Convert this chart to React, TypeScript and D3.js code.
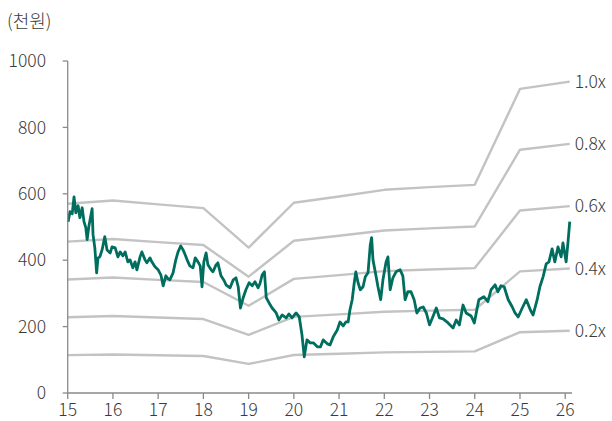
import React from "react";
import * as d3 from "d3";

// Price trace: [year (2-digit, fractional), price (천원)]
const priceYears: number[] = [
  15.01, 15.05, 15.10, 15.14, 15.18, 15.23, 15.27, 15.32, 15.36, 15.40, 15.43, 15.47, 15.54, 15.56, 15.60, 15.64, 15.67, 15.71, 15.76, 15.82,
  15.87, 15.94, 15.98, 16.05, 16.11, 16.16, 16.22, 16.27, 16.33, 16.38, 16.44, 16.49, 16.53, 16.60, 16.64, 16.71, 16.75, 16.82, 16.86, 16.93,
  17.00, 17.06, 17.11, 17.17, 17.22, 17.26, 17.33, 17.39, 17.44, 17.50, 17.55, 17.59, 17.64, 17.70, 17.77, 17.82, 17.88, 17.93, 17.97, 18.01,
  18.06, 18.10, 18.17, 18.21, 18.28, 18.32, 18.39, 18.46, 18.50, 18.59, 18.66, 18.72, 18.77, 18.82, 18.88, 18.94, 19.01, 19.08, 19.14, 19.21,
  19.25, 19.30, 19.35, 19.39, 19.45, 19.52, 19.61, 19.67, 19.74, 19.83, 19.89, 19.96, 20.05, 20.12, 20.18, 20.23, 20.29, 20.36, 20.43, 20.52,
  20.59, 20.65, 20.74, 20.80, 20.87, 20.96, 21.02, 21.09, 21.15, 21.20, 21.24, 21.29, 21.33, 21.37, 21.42, 21.47, 21.53, 21.58, 21.64, 21.69,
  21.72, 21.75, 21.82, 21.86, 21.92, 21.97, 22.04, 22.08, 22.13, 22.19, 22.26, 22.35, 22.41, 22.46, 22.52, 22.59, 22.66, 22.72, 22.79, 22.86,
  22.93, 23.00, 23.08, 23.15, 23.22, 23.30, 23.41, 23.52, 23.59, 23.66, 23.74, 23.81, 23.92, 23.99, 24.09, 24.20, 24.29, 24.36, 24.45, 24.51,
  24.58, 24.65, 24.74, 24.83, 24.89, 24.96, 25.05, 25.14, 25.23, 25.29, 25.38, 25.44, 25.51, 25.58, 25.64, 25.71, 25.77, 25.84, 25.91, 25.95,
  26.02, 26.06, 26.10,
];
const priceValues: number[] = [
  516, 546, 540, 591, 543, 564, 528, 558, 516, 498, 462, 504, 555, 477, 437, 362, 407, 410, 431, 471,
  431, 422, 440, 437, 410, 425, 413, 425, 395, 401, 377, 395, 371, 410, 425, 401, 392, 407, 395, 380,
  371, 356, 323, 353, 344, 341, 362, 401, 425, 443, 431, 419, 401, 383, 377, 407, 395, 383, 320, 395,
  422, 386, 371, 365, 386, 392, 353, 338, 326, 317, 341, 347, 320, 256, 287, 311, 332, 323, 335, 317,
  329, 356, 365, 287, 272, 256, 241, 220, 235, 226, 238, 226, 241, 229, 175, 109, 160, 151, 151, 139,
  139, 160, 148, 145, 169, 190, 214, 202, 214, 214, 250, 281, 326, 365, 332, 311, 320, 350, 362, 446,
  468, 401, 350, 320, 281, 341, 395, 410, 311, 347, 365, 371, 353, 281, 305, 305, 281, 241, 256, 259,
  241, 205, 232, 256, 226, 223, 211, 196, 220, 205, 265, 241, 232, 211, 281, 290, 275, 311, 326, 305,
  323, 320, 281, 259, 241, 229, 256, 281, 250, 235, 281, 320, 350, 389, 395, 434, 395, 440, 410, 452,
  395, 452, 516,
];

// BPS-based PBR band anchors
const bandYears: number[] = [15, 16, 17, 18, 19, 20, 21, 22, 23, 24, 25, 26.1];
const bpsValues: number[] = [570, 580, 568, 557, 438, 573, 592, 612, 620, 627, 916, 938];
const bandMultiples: number[] = [1.0, 0.8, 0.6, 0.4, 0.2];
const bandLabels: string[] = ["1.0x", "0.8x", "0.6x", "0.4x", "0.2x"];

const xTicks: number[] = [15, 16, 17, 18, 19, 20, 21, 22, 23, 24, 25, 26];
const yTicks: number[] = [0, 200, 400, 600, 800, 1000];
const unitLabel = "(천원)";

const W = 612;
const H = 421;
const FONT = "'Noto Sans CJK KR', 'Noto Sans', sans-serif";

export default function App() {
  const x = d3.scaleLinear().domain([15, 26.15]).range([67.7, 572.0]);
  const y = d3.scaleLinear().domain([0, 1000]).range([393, 61]);

  const line = d3
    .line<[number, number]>()
    .x((d) => x(d[0]))
    .y((d) => y(d[1]));

  const priceData: [number, number][] = priceYears.map((t, i) => [t, priceValues[i]]);

  const bands = bandMultiples.map((m, k) => {
    const pts: [number, number][] = bandYears.map((t, i) => [t, bpsValues[i] * m]);
    return { pts, label: bandLabels[k] };
  });

  const axisColor = "#8a8a8a";
  const textColor = "#3a3a3a";

  return (
    <svg
      width={W}
      height={H}
      style={{ position: "absolute", left: 0, top: 0, background: "#fff" }}
      fontFamily={FONT}
      fontWeight={300}
    >
      <text x={7} y={28} fontSize={18} fill={textColor}>
        {unitLabel}
      </text>

      {bands.map((b, i) => (
        <g key={i}>
          <path d={line(b.pts) || ""} fill="none" stroke="#c3c3c3" strokeWidth={2.4} strokeLinejoin="round" />
          <text
            x={x(b.pts[b.pts.length - 1][0]) + 5}
            y={y(b.pts[b.pts.length - 1][1])}
            dy="0.35em"
            fontSize={17.5}
            fill={textColor}
          >
            {b.label}
          </text>
        </g>
      ))}

      <path
        d={line(priceData) || ""}
        fill="none"
        stroke="#006e5e"
        strokeWidth={2.8}
        strokeLinejoin="round"
      />

      {/* y axis */}
      <line x1={x(15)} x2={x(15)} y1={y(1000)} y2={y(0)} stroke={axisColor} strokeWidth={1.3} />
      {yTicks.map((t) => (
        <g key={t}>
          <line x1={x(15) - 5} x2={x(15)} y1={y(t)} y2={y(t)} stroke={axisColor} strokeWidth={1.3} />
          <text x={46} y={y(t)} dy="0.35em" textAnchor="end" fontSize={17.5} fill={textColor}>
            {t}
          </text>
        </g>
      ))}

      {/* x axis */}
      <line x1={x(15)} x2={x(26.15)} y1={y(0)} y2={y(0)} stroke={axisColor} strokeWidth={1.3} />
      {xTicks.map((t) => (
        <g key={t}>
          <line x1={x(t)} x2={x(t)} y1={y(0)} y2={y(0) + 6} stroke={axisColor} strokeWidth={1.3} />
          <text x={x(t)} y={416} textAnchor="middle" fontSize={17.5} fill={textColor}>
            {t}
          </text>
        </g>
      ))}
    </svg>
  );
}
